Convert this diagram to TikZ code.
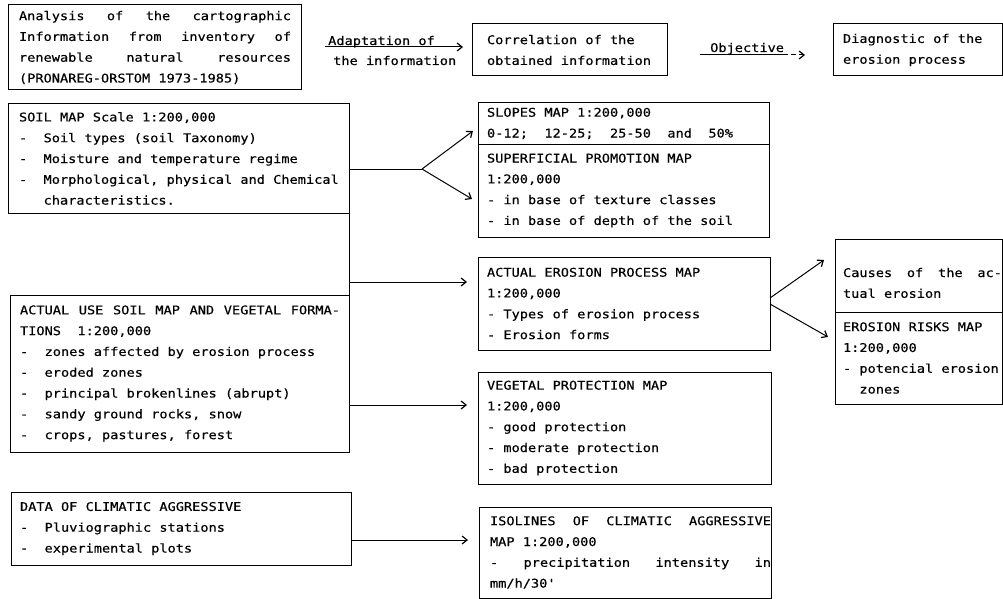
\documentclass[tikz,border=0pt]{standalone}
\usepackage{fontspec}
\newfontfamily\pf{DejaVu Sans Mono}[FakeStretch=1.135,FakeBold=0.4]
\usetikzlibrary{arrows.meta}
\newcommand\monosp{\spaceskip=8.2pt\xspaceskip=8.2pt\relax}
\newcommand\bxpad[2]{\parindent=0pt\leftskip=#1pt\rightskip=#2pt plus 1fil\monosp}
\newcommand\pfsize{\pf\fontsize{12}{20.8}\selectfont\monosp}
\newcommand\ind{\hphantom{xxx}}
\begin{document}
\begin{tikzpicture}[x=1pt,y=-1pt,
  txt/.style={font=\pfsize},
  box/.style={txt, draw, line width=1pt, anchor=north west, inner sep=0pt, outer sep=0pt, align=left},
  line/.style={line width=1pt},
  arr/.style={line width=1pt, -{Straight Barb[length=5pt,width=8pt,line width=1.2pt]}}]
\useasboundingbox (0,0) rectangle (1003,599);

% top row
\node[box, text width=293pt, minimum height=85pt] (A) at (8,5) {\bxpad{11}{10}%
Analysis\hfill of\hfill the\hfill cartographic\\
Information\hfill from\hfill inventory\hfill of\\
renewable\hfill natural\hfill resources\\
(PRONAREG-ORSTOM 1973-1985)\par};
\node[box, text width=195pt, minimum height=52pt] (corr) at (472,24) {\bxpad{15}{2}%
Correlation of the\\
obtained information\par};
\node[box, text width=169pt, minimum height=52pt] (diag) at (833,24) {\bxpad{10}{2}%
Diagnostic of the\\
erosion process\par};

% left column
\node[box, text width=341pt, minimum height=109pt] (soil) at (8,104) {\bxpad{11}{2}%
SOIL MAP Scale 1:200,000\\
-~~Soil types (soil Taxonomy)\\
-~~Moisture and temperature regime\\
-~~Morphological, physical and Chemical\\
\ind characteristics.\par};
\node[box, text width=339pt, minimum height=157pt] (use) at (10,295) {\bxpad{10}{9}%
ACTUAL\hfill USE\hfill SOIL\hfill MAP\hfill AND\hfill VEGETAL\hfill FORMA-\\
TIONS~~1:200,000\\
-~~zones affected by erosion process\\
-~~eroded zones\\
-~~principal brokenlines (abrupt)\\
-~~sandy ground rocks, snow\\
-~~crops, pastures, forest\par};
\node[box, text width=340pt, minimum height=73pt] (clim) at (11,492) {\bxpad{9}{2}%
DATA OF CLIMATIC AGGRESSIVE\\
-~~Pluviographic stations\\
-~~experimental plots\par};

% middle column
\node[box, text width=291pt, minimum height=41pt] (slopes) at (478,103) {\bxpad{9}{2}%
SLOPES MAP 1:200,000\\
0-12;~~12-25;~~25-50~~and~~50\%\par};
\node[box, text width=291pt, minimum height=93pt] (superf) at (478,144) {\bxpad{9}{2}%
SUPERFICIAL PROMOTION MAP\\
1:200,000\\
- in base of texture classes\\
- in base of depth of the soil\par};
\node[box, text width=292pt, minimum height=93pt] (eros) at (478,257) {\bxpad{9}{2}%
ACTUAL EROSION PROCESS MAP\\
1:200,000\\
- Types of erosion process\\
- Erosion forms\par};
\node[box, text width=293pt, minimum height=112pt] (veg) at (478,372) {\bxpad{9}{2}%
VEGETAL PROTECTION MAP\\
1:200,000\\
- good protection\\
- moderate protection\\
- bad protection\par};
\node[box, text width=292pt, minimum height=91pt] (iso) at (479,507) {\bxpad{11}{0}%
ISOLINES\hfill OF\hfill CLIMATIC\hfill AGGRESSIVE\\
MAP 1:200,000\\
-\hfill precipitation\hfill intensity\hfill in\\
mm/h/30\textquotesingle\par};

% right column
\node[box, text width=167pt, minimum height=73pt] (causes) at (835,239) {\bxpad{8}{0}%
\rule{0pt}{24pt}Causes\hfill of\hfill the\hfill ac-\\
tual erosion\par};
\node[box, text width=167pt, minimum height=92pt] (risks) at (835,312) {\bxpad{8}{0}%
EROSION RISKS MAP\\
1:200,000\\
- potencial erosion\\
\hphantom{xx}zones\par};

% top-row connectors
\coordinate (adS) at (325,47);
\coordinate (adE) at (463,47);
\draw[arr] (adS) -- (adE);
\node[txt, anchor=base west, inner sep=0pt] (adl1) at (328,45) {\monosp Adaptation of};
\node[txt, anchor=base west, inner sep=0pt] (adl2) at (333,65) {\monosp the information};
\coordinate (obS) at (700,55);
\coordinate (obM) at (783,55);
\coordinate (obE) at (805,55);
\draw[line] (obS) -- (obM);
\draw[arr, dash pattern=on 5pt off 3pt] (obM) -- (obE);
\node[txt, anchor=base west, inner sep=0pt] (obl) at (710,52) {Objective};

% soil map split
\coordinate (j1) at (422,169);
\coordinate (t1) at (473,131);
\coordinate (t2) at (472,199);
\draw[line] (soil.east |- j1) -- (j1);
\draw[arr] (j1) -- (t1);
\draw[arr] (j1) -- (t2);

% vertical link soil -> use, branch to erosion
\draw[line] (soil.south east) -- (use.north east);
\coordinate (b1) at (349,282);
\draw[arr, shorten >=11pt] (b1) -- (b1 -| eros.west);

% use -> vegetal
\coordinate (b2) at (349,405);
\draw[arr, shorten >=11pt] (b2) -- (b2 -| veg.west);

% climatic -> isolines
\coordinate (b3) at (351,540);
\draw[arr, shorten >=11pt] (b3) -- (b3 -| iso.west);

% erosion split
\coordinate (e1) at (770,298);
\coordinate (e2) at (770,304);
\coordinate (e3) at (824,260);
\coordinate (e4) at (828,337);
\draw[arr] (e1) -- (e3);
\draw[arr] (e2) -- (e4);
\end{tikzpicture}
\end{document}
